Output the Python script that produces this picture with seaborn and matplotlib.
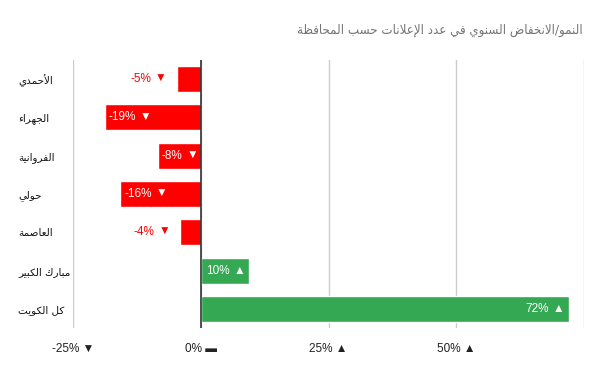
import matplotlib
matplotlib.use("Agg")
import matplotlib.pyplot as plt
import seaborn as sns
import pandas as pd
from matplotlib.transforms import offset_copy

# ---------------- data ----------------
title = "النمو/الانخفاض السنوي في عدد الإعلانات حسب المحافظة"
governorates = ["الأحمدي", "الجهراء", "الفروانية", "حولي", "العاصمة", "مبارك الكبير", "كل الكويت"]
growth = [-4.7, -18.8, -8.4, -15.8, -4.1, 9.5, 72.0]
growth_labels = ["-5%", "-19%", "-8%", "-16%", "-4%", "10%", "72%"]
x_ticks = [-25, 0, 25, 50, 75]
x_tick_labels = ["-25% ▼", "0% ▬", "25% ▲", "50% ▲", ""]

# ------------- minimal Arabic shaping (presentation forms + RTL) -------------
DUAL = {  # isolated base code of presentation form
    'ئ': 0xFE89, 'ب': 0xFE8F, 'ت': 0xFE95, 'ث': 0xFE99, 'ج': 0xFE9D, 'ح': 0xFEA1,
    'خ': 0xFEA5, 'س': 0xFEB1, 'ش': 0xFEB5, 'ص': 0xFEB9, 'ض': 0xFEBD, 'ط': 0xFEC1,
    'ظ': 0xFEC5, 'ع': 0xFEC9, 'غ': 0xFECD, 'ف': 0xFED1, 'ق': 0xFED5, 'ك': 0xFED9,
    'ل': 0xFEDD, 'م': 0xFEE1, 'ن': 0xFEE5, 'ه': 0xFEE9, 'ي': 0xFEF1,
}
RIGHT = {
    'آ': 0xFE81, 'أ': 0xFE83, 'ؤ': 0xFE85, 'إ': 0xFE87, 'ا': 0xFE8D, 'ة': 0xFE93,
    'د': 0xFEA9, 'ذ': 0xFEAB, 'ر': 0xFEAD, 'ز': 0xFEAF, 'و': 0xFEED, 'ى': 0xFEEF,
    '\uE001': 0xFEF5, '\uE002': 0xFEF7, '\uE003': 0xFEF9, '\uE004': 0xFEFB,
}
NONJOIN = {'ء': 0xFE80}


def shape(text):
    text = (text.replace('لآ', '\uE001').replace('لأ', '\uE002')
                .replace('لإ', '\uE003').replace('لا', '\uE004'))
    out = []
    n = len(text)
    for i, ch in enumerate(text):
        prev = text[i - 1] if i > 0 else ''
        nxt = text[i + 1] if i < n - 1 else ''
        jp = prev in DUAL
        jn = ch in DUAL and (nxt in DUAL or nxt in RIGHT)
        if ch in DUAL:
            b = DUAL[ch]
            if jp and jn:
                out.append(chr(b + 3))
            elif jp:
                out.append(chr(b + 1))
            elif jn:
                out.append(chr(b + 2))
            else:
                out.append(chr(b))
        elif ch in RIGHT:
            b = RIGHT[ch]
            out.append(chr(b + 1) if jp else chr(b))
        elif ch in NONJOIN:
            out.append(chr(NONJOIN[ch]))
        else:
            out.append(ch)
    return ''.join(reversed(out))


# ---------------- plot ----------------
sns.set_theme(style="white")
plt.rcParams['font.family'] = ['Liberation Sans', 'DejaVu Sans']

df = pd.DataFrame({
    "gov": governorates,
    "growth": growth,
    "sign": ["neg" if v < 0 else "pos" for v in growth],
})
RED = "#ff0000"
GREEN = "#34a853"

fig = plt.figure(figsize=(6.0, 3.71), dpi=100)
ax = fig.add_axes([73 / 600, 1 - 328 / 371, (584 - 73) / 600, (328 - 60) / 371])

sns.barplot(data=df, y="gov", x="growth", hue="sign", orient="h",
            palette={"neg": RED, "pos": GREEN}, width=0.68, dodge=False,
            saturation=1, legend=False, ax=ax, zorder=3)

ax.set_xlim(-25, 75)
ax.set_ylim(6.5, -0.5)
ax.set_xticks(x_ticks)
ax.set_xticklabels(x_tick_labels, fontsize=8.5, color="#222222")
ax.xaxis.grid(True, color="#cccccc", linewidth=1, zorder=0)
ax.axvline(0, color="#333333", linewidth=1.2, zorder=4)
ax.tick_params(axis='x', length=5, width=1, color="#cccccc", pad=6)
ax.set_xlabel("")
ax.set_ylabel("")
for s in ax.spines.values():
    s.set_visible(False)

ax.set_yticks(range(len(governorates)))
ax.set_yticklabels([shape(g) for g in governorates], family=['DejaVu Sans'],
                   fontsize=7.5, color="#111111")
ax.tick_params(axis='y', length=0, pad=39.6)
for lab in ax.get_yticklabels():
    lab.set_horizontalalignment('left')

# value labels: number followed by a triangle, chained so order is fixed
FS = 8.5
for i, (v, lbl) in enumerate(zip(growth, growth_labels)):
    tri_char = "▼" if v < 0 else "▲"
    if v < -6:
        tr = offset_copy(ax.transData, fig=fig, x=4, y=0, units='dots')
        num = ax.text(v, i, lbl, transform=tr, ha='left', va='center',
                      color='white', fontsize=FS, zorder=5)
        ax.annotate(tri_char, xy=(1, 0.5), xycoords=num, xytext=(4, 0),
                    textcoords='offset pixels', ha='left', va='center',
                    color='white', fontsize=FS, zorder=5)
    else:
        col = RED if v < 0 else 'white'
        dx = -10 if v < 0 else -4
        tr = offset_copy(ax.transData, fig=fig, x=dx, y=0, units='dots')
        tri = ax.text(v, i, tri_char, transform=tr, ha='right', va='center',
                      color=col, fontsize=FS, zorder=5)
        ax.annotate(lbl, xy=(0, 0.5), xycoords=tri, xytext=(-4, 0),
                    textcoords='offset pixels', ha='right', va='center',
                    color=col, fontsize=FS, zorder=5)

fig.text(583 / 600, 1 - 30 / 371, shape(title), ha='right', va='center',
         fontsize=9.5, color="#757575", family=['DejaVu Sans'],
         fontstretch='condensed')

fig.savefig("out.png", dpi=100, facecolor="white")
